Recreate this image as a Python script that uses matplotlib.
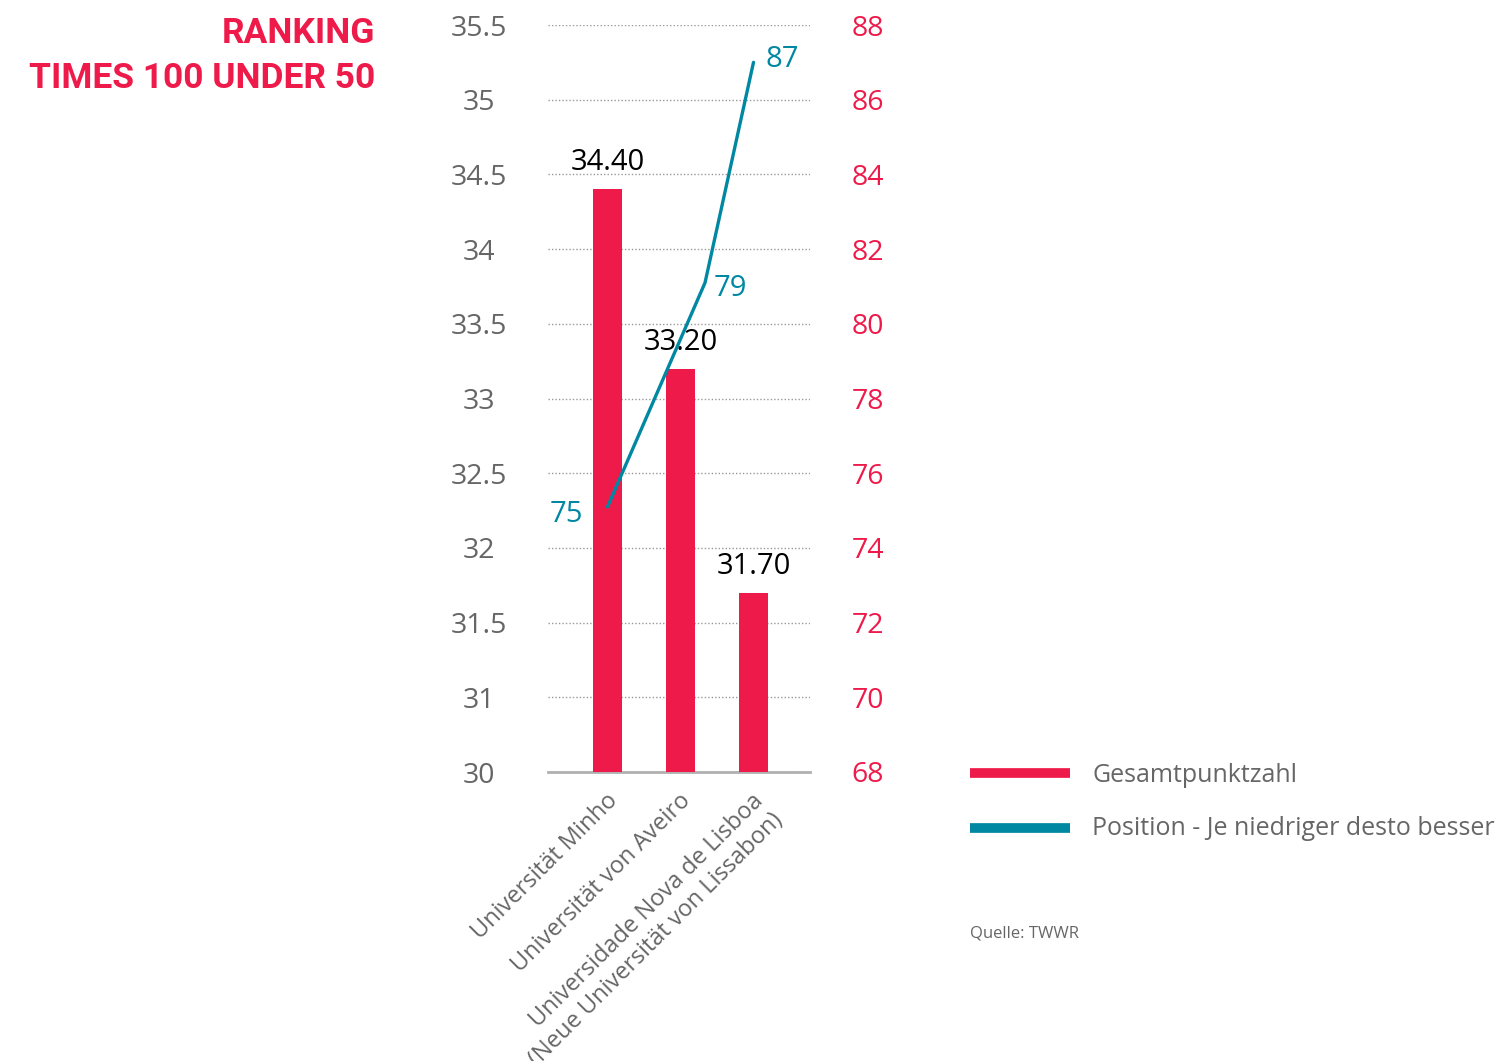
import matplotlib.pyplot as plt
import matplotlib.transforms as mtransforms

plt.rcParams['font.family'] = ['Open Sans', 'DejaVu Sans']

RED = '#ee1a4a'
TEAL = '#0088a3'
GREY = '#666666'

unis = ['Universität Minho', 'Universität von Aveiro',
        'Universidade Nova de Lisboa\n(Neue Universität von Lissabon)']
score = [34.40, 33.20, 31.70]
score_labels = ['34.40', '33.20', '31.70']

# position line, as it sits in the picture
pos_x = [0, 1.336, 2]
pos_y = [75.1, 81.1, 87.0]
pos_labels = ['75', '79', '87']

left_ticks = [30.5, 31, 31.5, 32, 32.5, 33, 33.5, 34, 34.5, 35, 35.5]
left_tick_labels = ['30', '31', '31.5', '32', '32.5', '33', '33.5', '34', '34.5', '35', '35.5']
right_ticks = list(range(68, 89, 2))

fig = plt.figure(figsize=(15.03, 10.61), dpi=100)
ax = fig.add_axes([548 / 1503, 1 - 772 / 1061, 262 / 1503, 747 / 1061])

x = list(range(len(unis)))
ax.bar(x, score, width=0.4, color=RED, zorder=3)
ax.set_xlim(-0.815, 2.774)
ax.set_ylim(30.5, 35.5)
ax.set_yticks(left_ticks)
ax.set_yticklabels(left_tick_labels, ha='center')
ax.yaxis.grid(True, linestyle=(0, (1, 1.5)), color='#999999', linewidth=1)
ax.set_axisbelow(True)
for s in ['top', 'left', 'right']:
    ax.spines[s].set_visible(False)
ax.spines['bottom'].set_color('#b0b0b0')
ax.spines['bottom'].set_linewidth(2)
ax.tick_params(axis='y', length=0, pad=50, labelsize=20.5, labelcolor=GREY)
ax.tick_params(axis='x', length=0)
ax.set_xticks(x)
ax.set_xticklabels([])

# rotated category labels
off = mtransforms.ScaledTranslation(-2 / 100, -17 / 100, fig.dpi_scale_trans)
for xi, name in zip(x, unis):
    ax.text(xi, 0, name, rotation=45, ha='right', va='top', rotation_mode='anchor',
            multialignment='right', fontsize=17, color=GREY,
            transform=ax.get_xaxis_transform() + off)

for xi, v, t in zip(x, score, score_labels):
    ax.text(xi, v + 0.08, t, ha='center', va='bottom', fontsize=21, color='black', zorder=5)

ax2 = ax.twinx()
ax2.set_ylim(68, 88)
ax2.set_yticks(right_ticks)
ax2.tick_params(axis='y', length=0, pad=30, labelsize=20.5, labelcolor=RED)
for s in ['top', 'left', 'right', 'bottom']:
    ax2.spines[s].set_visible(False)
ax2.plot(pos_x, pos_y, color=TEAL, linewidth=2.4, solid_capstyle='round')
ax2.text(pos_x[0] - 0.33, pos_y[0] - 0.2, pos_labels[0], ha='right', va='center', fontsize=21, color=TEAL)
ax2.text(pos_x[1] + 0.12, pos_y[1] - 0.15, pos_labels[1], ha='left', va='center', fontsize=21, color=TEAL)
ax2.text(pos_x[2] + 0.17, pos_y[2] + 0.08, pos_labels[2], ha='left', va='center', fontsize=21, color=TEAL)

fig.text(375 / 1503, 1 - 43 / 1061, 'RANKING', ha='right', va='baseline',
         fontsize=25.5, fontweight='bold', color=RED, family=['Roboto', 'DejaVu Sans'])
fig.text(375 / 1503, 1 - 88 / 1061, 'TIMES 100 UNDER 50', ha='right', va='baseline',
         fontsize=25.5, fontweight='bold', color=RED, family=['Roboto', 'DejaVu Sans'])

# legend
fig.add_artist(plt.Line2D([970 / 1503, 1070 / 1503], [1 - 773 / 1061] * 2, color=RED, linewidth=7,
                          solid_capstyle='butt', transform=fig.transFigure))
fig.add_artist(plt.Line2D([970 / 1503, 1070 / 1503], [1 - 828 / 1061] * 2, color=TEAL, linewidth=7,
                          solid_capstyle='butt', transform=fig.transFigure))
fig.text(1092 / 1503, 1 - 782 / 1061, 'Gesamtpunktzahl', ha='left', va='baseline', fontsize=18, color=GREY)
fig.text(1092 / 1503, 1 - 835 / 1061, 'Position - Je niedriger desto besser', ha='left', va='baseline',
         fontsize=18, color=GREY)
fig.text(970 / 1503, 1 - 938 / 1061, 'Quelle: TWWR', ha='left', va='baseline', fontsize=12, color=GREY)

fig.savefig('out.png', dpi=100)
